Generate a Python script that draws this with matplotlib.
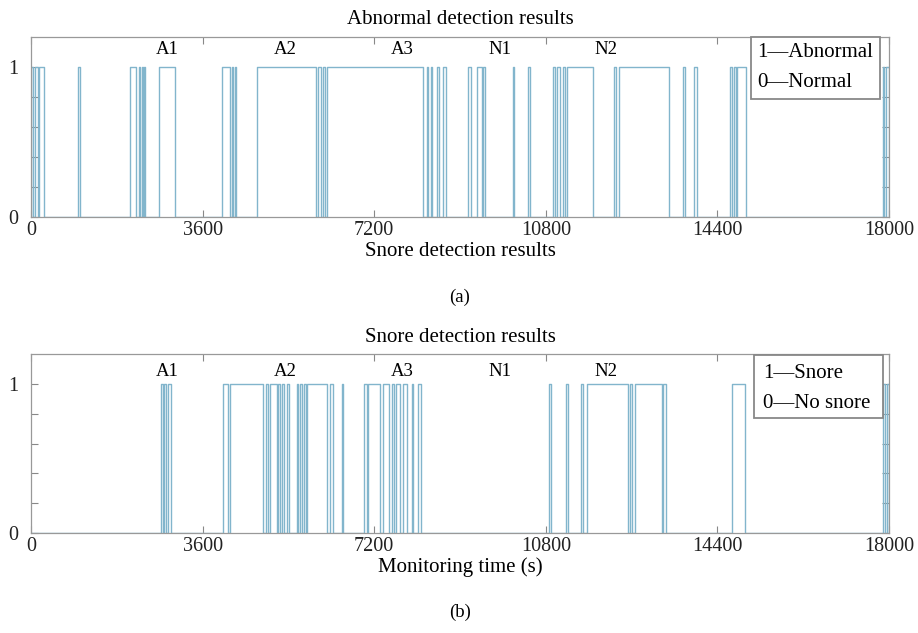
import matplotlib
matplotlib.use("Agg")
import matplotlib.pyplot as plt
from matplotlib.patches import Rectangle
import numpy as np

plt.rcParams['font.family'] = ['Liberation Serif', 'DejaVu Serif']

# High (=1) intervals, seconds
abn_start = [0, 80, 160, 980, 2085, 2265, 2320, 2375, 2690, 4000, 4225, 4270,
             4750, 6030, 6120, 6205, 8300, 8385, 8520, 8650, 9175, 9350, 9490,
             10105, 10425, 10945, 11040, 11165, 11240, 12240, 12335, 13670,
             13915, 14665, 14750, 14820, 17865, 17930]
abn_end = [50, 140, 280, 1035, 2195, 2295, 2360, 2400, 3015, 4175, 4245, 4310,
           5980, 6085, 6170, 8230, 8335, 8420, 8555, 8700, 9225, 9455, 9525,
           10140, 10470, 10995, 11100, 11210, 11795, 12270, 13380, 13715,
           13965, 14705, 14790, 15000, 17900, 18000]

snore_start = [2725, 2800, 2880, 4035, 4175, 4925, 5015, 5190, 5275, 5365,
               5575, 5645, 5730, 5800, 6275, 6520, 6995, 7080, 7390, 7570,
               7650, 7810, 7985, 8125, 10875, 11215, 11540, 11670, 12565,
               12670, 13265, 14700, 17880, 17950]
snore_end = [2775, 2830, 2935, 4125, 4875, 4965, 5155, 5225, 5310, 5420,
             5610, 5680, 5760, 6205, 6345, 6555, 7040, 7320, 7500, 7625,
             7740, 7880, 8020, 8175, 10910, 11270, 11575, 12530, 12600,
             13230, 13315, 14980, 17920, 18000]

stage_labels = ['A1', 'A2', 'A3', 'N1', 'N2']
stage_pos = [2853, 5329, 7785, 9840, 12063]
xticks = [0, 3600, 7200, 10800, 14400, 18000]
legend_a = ['1—Abnormal', '0—Normal']
legend_b = ['1—Snore', '0—No snore']
T_END = 18000

LINE_C = '#82b5cc'
FS = 15


def build_step(starts, ends):
    xs = [0.0]
    ys = [0.0]
    for s, e in zip(starts, ends):
        xs += [s, s, e, e]
        ys += [ys[-1], 1, 1, 0]
    xs.append(T_END)
    ys.append(ys[-1])
    return np.array(xs, float), np.array(ys, float)


fig = plt.figure(figsize=(9.18, 6.33), dpi=100)
ax1 = fig.add_axes([31/918, 1-217/633, 858/918, 180/633])
ax2 = fig.add_axes([31/918, 1-533/633, 858/918, 179/633])


def style(ax, title, xlabel, legend_lines, tag, box, txt_x, base_y, stage_y):
    ax.set_xlim(0, T_END)
    ax.set_ylim(0, 1.2)
    ax.set_xticks(xticks)
    ax.set_xticklabels([str(v) for v in xticks])
    ax.set_yticks([0, 1])
    ax.set_yticks([0.2, 0.4, 0.6, 0.8], minor=True)
    ax.tick_params(direction='in', top=True, right=True, length=5,
                   labelsize=14.5, labelcolor='#222222', width=0.8,
                   color='#888888', pad=3)
    ax.tick_params(axis='y', pad=9)
    ax.tick_params(which='minor', direction='in', right=True, length=5,
                   color='#888888', width=0.8)
    for sp in ax.spines.values():
        sp.set_color('#999999')
        sp.set_linewidth(0.9)
    ax.set_title(title, fontsize=FS, pad=9)
    ax.set_xlabel(xlabel, fontsize=FS, labelpad=1)
    for lab, p in zip(stage_labels, stage_pos):
        ax.text(p, stage_y, lab, ha='center', va='center', fontsize=13.5)
    x0, x1, y0, y1 = box
    ax.add_patch(Rectangle((x0, y0), x1 - x0, y1 - y0, transform=ax.transAxes,
                           fc='white', ec='#888888', lw=1.3, zorder=5,
                           clip_on=False))
    for line, by in zip(legend_lines, base_y):
        ax.text(txt_x, by, line, transform=ax.transAxes, ha='left',
                va='baseline', fontsize=FS, zorder=6)
    ax.text(0.5, -0.445, tag, transform=ax.transAxes, ha='center',
            va='center', fontsize=13.5)


x1, y1 = build_step(abn_start, abn_end)
ax1.plot(x1, y1, color=LINE_C, lw=1.0)
style(ax1, 'Abnormal detection results', 'Snore detection results',
      legend_a, '(a)', (0.839, 0.989, 0.654, 0.998), 0.846, [0.891, 0.724],
      1.12)

x2, y2 = build_step(snore_start, snore_end)
ax2.plot(x2, y2, color=LINE_C, lw=1.0)
style(ax2, 'Snore detection results', 'Monitoring time (s)',
      legend_b, '(b)', (0.843, 0.993, 0.642, 0.994), 0.853, [0.866, 0.698],
      1.08)

fig.savefig('out.png', dpi=100)
